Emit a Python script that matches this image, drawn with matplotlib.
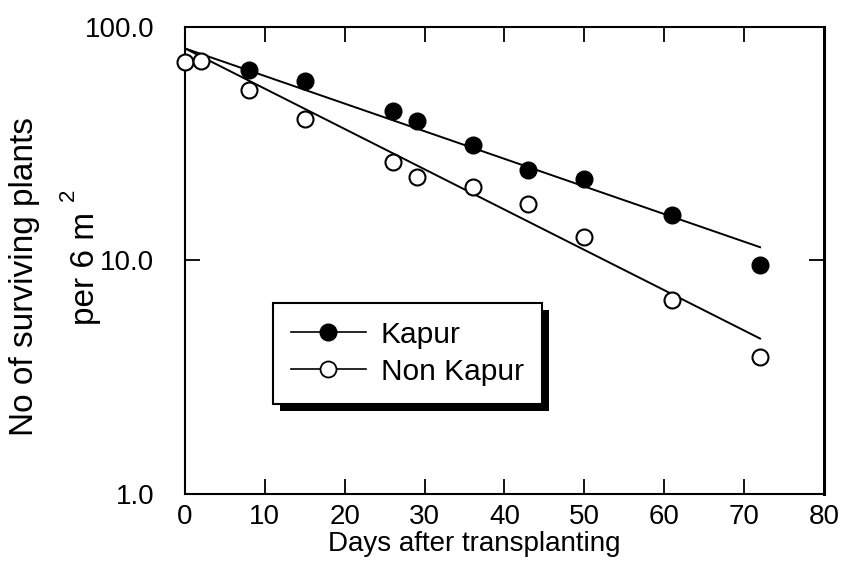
import matplotlib
matplotlib.use("Agg")
import matplotlib.pyplot as plt
from matplotlib.patches import Rectangle

plt.rcParams['font.family'] = ['Liberation Sans', 'DejaVu Sans']

# observed counts per 6 m2
days = [0, 2, 8, 15, 26, 29, 36, 43, 50, 61, 72]
kapur = [71, 71.6, 65.3, 58.8, 43.6, 39.4, 31.3, 24.4, 22.4, 15.6, 9.6]
non_kapur = [71, 71.6, 53.6, 40.5, 26.3, 22.7, 20.7, 17.5, 12.6, 6.76, 3.86]

# fitted exponential decay lines (ends)
fit_days = [0, 72]
kapur_fit = [81, 11.4]
non_kapur_fit = [81, 4.63]

xticks = [0, 10, 20, 30, 40, 50, 60, 70, 80]
yticks = [1, 10, 100]
ytick_labels = ['1.0', '10.0', '100.0']

fig = plt.figure(figsize=(8.42, 5.88), dpi=100)
ax = fig.add_axes([0.2197, 0.160, 0.7589, 0.794])

ax.plot(fit_days, kapur_fit, color='black', lw=1.4, zorder=2)
ax.plot(fit_days, non_kapur_fit, color='black', lw=1.4, zorder=2)
ax.plot(days[2:], kapur[2:], 'o', ms=12, mfc='black', mec='black',
        zorder=3, clip_on=False)
ax.plot(days, non_kapur, 'o', ms=11.5, mfc='white', mec='black', mew=1.5,
        zorder=4, clip_on=False)

# legend proxies: line through marker
h1, = ax.plot([], [], '-o', color='black', lw=1.2, ms=12, mfc='black',
              label='Kapur')
h2, = ax.plot([], [], '-o', color='black', lw=1.2, ms=11.5, mfc='white',
              mew=1.3, label='Non Kapur')

ax.set_yscale('log')
ax.set_xlim(0, 80)
ax.set_ylim(1, 100)
ax.set_xticks(xticks)
ax.set_yticks(yticks)
ax.set_yticklabels(ytick_labels)
ax.minorticks_off()
ax.tick_params(direction='in', length=11, width=1.3, labelsize=20,
               top=True, right=True)
ax.tick_params(axis='x', pad=7)
ax.tick_params(axis='y', pad=22)
for s in ax.spines.values():
    s.set_linewidth(1.5)
ax.spines['right'].set_linewidth(2.2)

ax.set_xlabel('Days after transplanting', fontsize=20)
ax.xaxis.set_label_coords(0.452, -0.08)

fig.text(0.029, 0.529, 'No of surviving plants', rotation=90, fontsize=24,
         ha='center', va='center')
fig.text(0.101, 0.544, 'per 6 m', rotation=90, fontsize=24,
         ha='center', va='center')
fig.text(0.081, 0.668, '2', rotation=90, fontsize=16,
         ha='center', va='center')

leg = ax.legend(handles=[h1, h2], loc='upper left',
                bbox_to_anchor=(0.138, 0.409), borderaxespad=0,
                fontsize=21.5, frameon=True, fancybox=False, numpoints=1,
                handlelength=2.5, handletextpad=0.5, labelspacing=0.3,
                borderpad=0.6, framealpha=1)
leg.get_frame().set_facecolor('white')
leg.get_frame().set_edgecolor('black')
leg.get_frame().set_linewidth(1.5)
leg.set_zorder(6)

# heavy drop shadow under the legend box
fig.canvas.draw()
bb = leg.get_window_extent().transformed(fig.transFigure.inverted())
dx, dy = 7 / 842, 7 / 588
ax.add_patch(Rectangle((bb.x0 + dx, bb.y0 - dy), bb.width, bb.height,
                       transform=fig.transFigure, facecolor='black',
                       edgecolor='none', zorder=5, clip_on=False))

fig.savefig('out.png', dpi=100)
